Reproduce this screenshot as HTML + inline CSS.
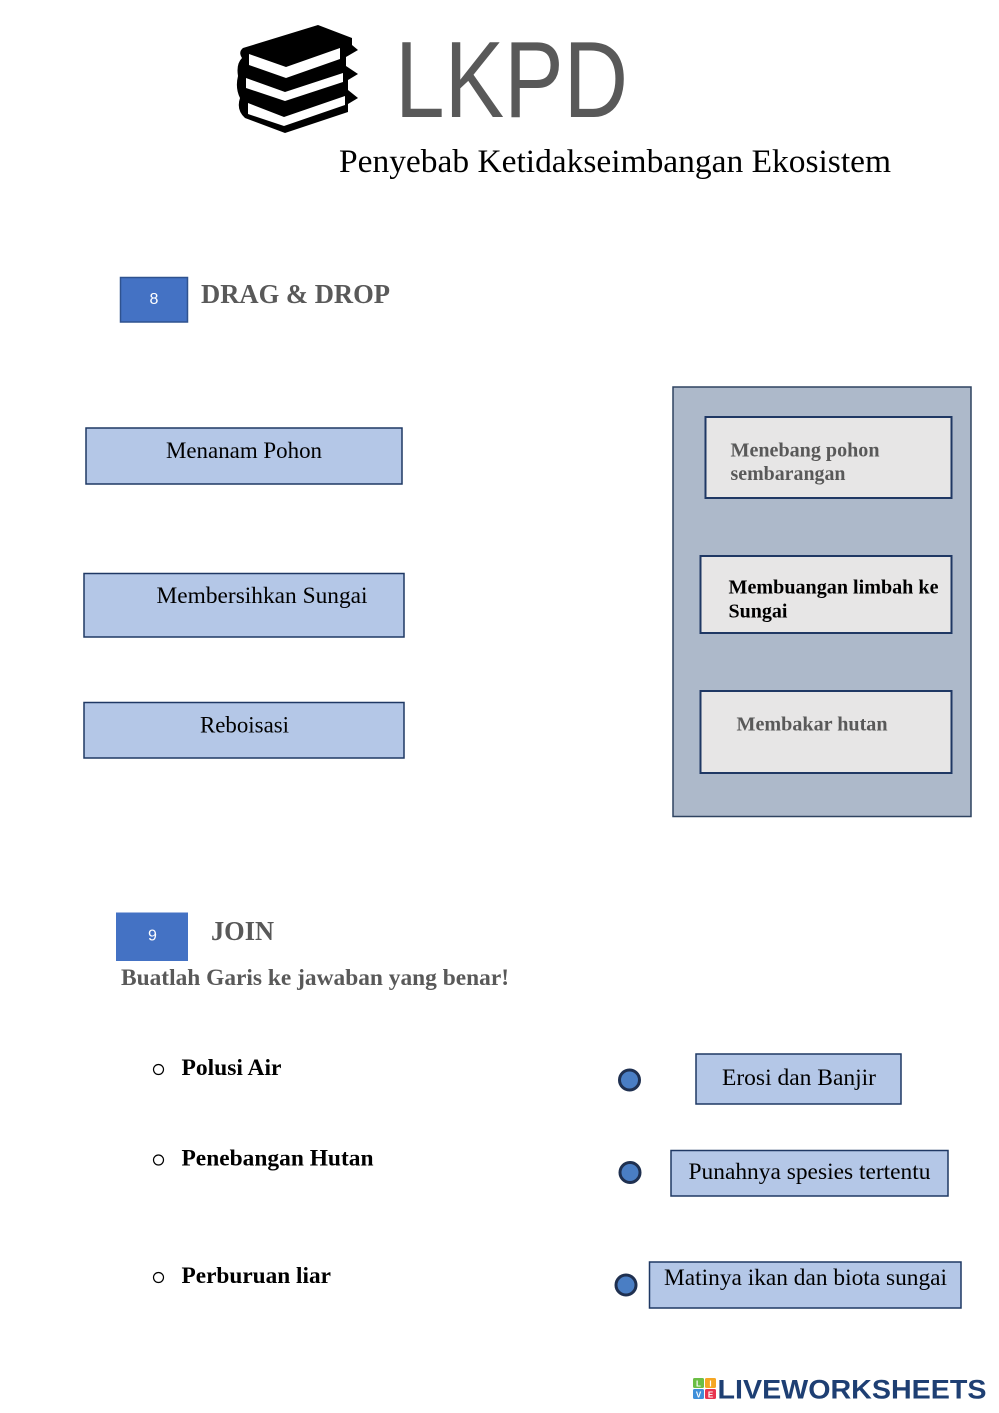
<!DOCTYPE html>
<html>
<head>
<meta charset="utf-8">
<style>
  html, body { margin:0; padding:0; background:#ffffff; }
  svg { display:block; }
  .serif { font-family: "Liberation Serif", "Times New Roman", serif; }
  .sans { font-family: "Liberation Sans", Arial, sans-serif; }
</style>
</head>
<body>
<svg width="999" height="1413" viewBox="0 0 999 1413" xmlns="http://www.w3.org/2000/svg">
  <rect x="0" y="0" width="999" height="1413" fill="#ffffff"/>

  <!-- Book icon -->
  <path d="M243,48 L318,25 L352,38 L352,45 L358,50 L346,57 L346,66 L358,74 L348,80 L348,90 L358,98 L348,104 L348,112 L285,133 L245,118 Q236,110 240,98 Q235,88 238,76 Q236,64 242,58 Q238,52 243,48 Z" fill="#000000"/>
  <polygon points="249,54 286,67 340,48 340,59 286,78 249,65" fill="#ffffff"/>
  <polygon points="246,78 285,92 343,73 343,82 285,101 246,88" fill="#ffffff"/>
  <polygon points="248,103 284,117 345,96 345,105 284,126 248,114" fill="#ffffff"/>

  <!-- LKPD title -->
  <text x="395" y="117" class="sans" font-size="109" fill="#595959" textLength="233" lengthAdjust="spacingAndGlyphs">LKPD</text>
  <text x="339" y="172" class="serif" font-size="33" fill="#000000" textLength="552" lengthAdjust="spacingAndGlyphs">Penyebab Ketidakseimbangan Ekosistem</text>

  <!-- Section 8 -->
  <rect x="120.5" y="277.5" width="67" height="44.5" fill="#4472C4" stroke="#2F528F" stroke-width="1.5"/>
  <text x="154" y="304" class="sans" font-size="16" fill="#ffffff" text-anchor="middle">8</text>
  <text x="201" y="303" class="serif" font-size="27" font-weight="bold" fill="#595959" textLength="189" lengthAdjust="spacingAndGlyphs">DRAG &amp; DROP</text>

  <!-- Left drag boxes -->
  <rect x="86" y="428" width="316" height="56" fill="#B4C7E7" stroke="#1F3864" stroke-width="1.5"/>
  <text x="166" y="458" class="serif" font-size="23" fill="#000000" textLength="156" lengthAdjust="spacingAndGlyphs">Menanam Pohon</text>

  <rect x="84" y="573.5" width="320" height="63.5" fill="#B4C7E7" stroke="#1F3864" stroke-width="1.5"/>
  <text x="156.5" y="603" class="serif" font-size="23" fill="#000000" textLength="211" lengthAdjust="spacingAndGlyphs">Membersihkan Sungai</text>

  <rect x="84" y="702.5" width="320" height="55.5" fill="#B4C7E7" stroke="#1F3864" stroke-width="1.5"/>
  <text x="200" y="732.5" class="serif" font-size="23" fill="#000000" textLength="89" lengthAdjust="spacingAndGlyphs">Reboisasi</text>

  <!-- Right container -->
  <rect x="673" y="387" width="298" height="429.5" fill="#ADB9CA" stroke="#2F4360" stroke-width="1.5"/>

  <rect x="705.5" y="417" width="246" height="81" fill="#E7E6E6" stroke="#1F3864" stroke-width="2"/>
  <text x="730.5" y="456.5" class="serif" font-size="19.5" font-weight="bold" fill="#595959" textLength="149" lengthAdjust="spacingAndGlyphs">Menebang pohon</text>
  <text x="730.5" y="480" class="serif" font-size="19.5" font-weight="bold" fill="#595959" textLength="115" lengthAdjust="spacingAndGlyphs">sembarangan</text>

  <rect x="700.5" y="556" width="251" height="77" fill="#E7E6E6" stroke="#1F3864" stroke-width="2"/>
  <text x="728.5" y="593.5" class="serif" font-size="20" font-weight="bold" fill="#000000" textLength="210" lengthAdjust="spacingAndGlyphs">Membuangan limbah ke</text>
  <text x="728.5" y="617.5" class="serif" font-size="20" font-weight="bold" fill="#000000" textLength="59" lengthAdjust="spacingAndGlyphs">Sungai</text>

  <rect x="700.5" y="691" width="251" height="82" fill="#E7E6E6" stroke="#1F3864" stroke-width="2"/>
  <text x="736.5" y="730.5" class="serif" font-size="19.5" font-weight="bold" fill="#595959" textLength="151" lengthAdjust="spacingAndGlyphs">Membakar hutan</text>

  <!-- Section 9 -->
  <rect x="116" y="912.5" width="72" height="48.5" fill="#4472C4"/>
  <text x="152.5" y="940.5" class="sans" font-size="16" fill="#ffffff" text-anchor="middle">9</text>
  <text x="211" y="940" class="serif" font-size="27" font-weight="bold" fill="#595959" textLength="63" lengthAdjust="spacingAndGlyphs">JOIN</text>
  <text x="121" y="985" class="serif" font-size="23" font-weight="bold" fill="#595959" textLength="388" lengthAdjust="spacingAndGlyphs">Buatlah Garis ke jawaban yang benar!</text>

  <!-- Left list -->
  <circle cx="158.5" cy="1069.5" r="5" fill="none" stroke="#000000" stroke-width="1.2"/>
  <text x="181.5" y="1075" class="serif" font-size="23" font-weight="bold" fill="#000000" textLength="100" lengthAdjust="spacingAndGlyphs">Polusi Air</text>

  <circle cx="158.5" cy="1160" r="5" fill="none" stroke="#000000" stroke-width="1.2"/>
  <text x="181.5" y="1165.5" class="serif" font-size="23" font-weight="bold" fill="#000000" textLength="192" lengthAdjust="spacingAndGlyphs">Penebangan Hutan</text>

  <circle cx="158.5" cy="1277.5" r="5" fill="none" stroke="#000000" stroke-width="1.2"/>
  <text x="181.5" y="1283" class="serif" font-size="23" font-weight="bold" fill="#000000" textLength="149.5" lengthAdjust="spacingAndGlyphs">Perburuan liar</text>

  <!-- Join dots -->
  <circle cx="629.5" cy="1080" r="10" fill="#4A7EC4" stroke="#1F3050" stroke-width="3"/>
  <circle cx="630" cy="1172.5" r="10" fill="#4A7EC4" stroke="#1F3050" stroke-width="3"/>
  <circle cx="626" cy="1285" r="10" fill="#4A7EC4" stroke="#1F3050" stroke-width="3"/>

  <!-- Right join boxes -->
  <rect x="696" y="1054" width="205" height="50" fill="#B4C7E7" stroke="#1F3864" stroke-width="1.5"/>
  <text x="722" y="1085" class="serif" font-size="23" fill="#000000" textLength="154" lengthAdjust="spacingAndGlyphs">Erosi dan Banjir</text>

  <rect x="671" y="1150.5" width="277" height="45.5" fill="#B4C7E7" stroke="#1F3864" stroke-width="1.5"/>
  <text x="688.5" y="1179" class="serif" font-size="23" fill="#000000" textLength="242" lengthAdjust="spacingAndGlyphs">Punahnya spesies tertentu</text>

  <rect x="649.5" y="1262" width="311.5" height="46" fill="#B4C7E7" stroke="#1F3864" stroke-width="1.5"/>
  <text x="664" y="1285" class="serif" font-size="23" fill="#000000" textLength="283" lengthAdjust="spacingAndGlyphs">Matinya ikan dan biota sungai</text>

  <!-- Liveworksheets logo -->
  <rect x="693" y="1378" width="11" height="10" rx="1.5" fill="#6BBE45"/>
  <rect x="705" y="1378" width="11" height="10" rx="1.5" fill="#F5A623"/>
  <rect x="693" y="1389" width="11" height="10" rx="1.5" fill="#3F8FD9"/>
  <rect x="705" y="1389" width="11" height="10" rx="1.5" fill="#E8344E"/>
  <text x="698.5" y="1386.5" class="sans" font-size="8" font-weight="bold" fill="#ffffff" text-anchor="middle">L</text>
  <text x="710.5" y="1386.5" class="sans" font-size="8" font-weight="bold" fill="#ffffff" text-anchor="middle">I</text>
  <text x="698.5" y="1397.5" class="sans" font-size="8" font-weight="bold" fill="#ffffff" text-anchor="middle">V</text>
  <text x="710.5" y="1397.5" class="sans" font-size="8" font-weight="bold" fill="#ffffff" text-anchor="middle">E</text>
  <text x="717.5" y="1398.5" class="sans" font-size="27" font-weight="bold" fill="#1E3F73" textLength="269" lengthAdjust="spacingAndGlyphs">LIVEWORKSHEETS</text>
</svg>
</body>
</html>
